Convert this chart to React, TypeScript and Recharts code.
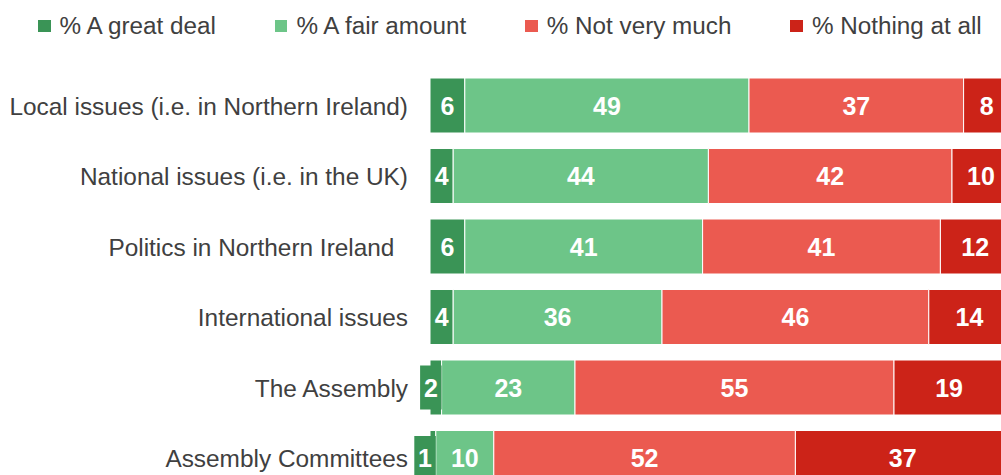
import React from 'react';
import { BarChart, Bar, XAxis, YAxis, LabelList } from 'recharts';

const categories = [
  'Local issues (i.e. in Northern Ireland)',
  'National issues (i.e. in the UK)',
  'Politics in Northern Ireland\u00A0\u00A0',
  'International issues',
  'The Assembly',
  'Assembly Committees',
];

const greatDeal = [6, 4, 6, 4, 2, 1];
const fairAmount = [49, 44, 41, 36, 23, 10];
const notVeryMuch = [37, 42, 41, 46, 55, 52];
const nothingAtAll = [8, 10, 12, 14, 19, 37];

const SERIES = [
  { key: 'great', name: '% A great deal', color: '#3A9456', values: greatDeal },
  { key: 'fair', name: '% A fair amount', color: '#6DC588', values: fairAmount },
  { key: 'notMuch', name: '% Not very much', color: '#EB5A50', values: notVeryMuch },
  { key: 'nothing', name: '% Nothing at all', color: '#CC2318', values: nothingAtAll },
];

const data = categories.map((name, i) => {
  const row: Record<string, string | number> = { name };
  SERIES.forEach(s => {
    row[s.key] = s.values[i];
  });
  return row;
});

const FONT = '"Liberation Sans", Arial, sans-serif';
const TEXT = '#404040';

const makeLabel = (color: string) => (props: any) => {
  const { x, y, width, height, value } = props;
  const cx = x + width / 2;
  const cy = y + height / 2;
  if (width < 14) {
    const boxW = String(value).length * 13.5 + 8;
    const boxX = x + width - boxW;
    return (
      <g>
        <rect x={boxX} y={cy - 22} width={boxW} height={44} fill={color} />
        <text x={boxX + boxW / 2} y={cy} fill="#fff" fontSize={25} fontWeight="bold"
          fontFamily={FONT} textAnchor="middle" dominantBaseline="central">{value}</text>
      </g>
    );
  }
  return (
    <text x={cx} y={cy} fill="#fff" fontSize={25} fontWeight="bold"
      fontFamily={FONT} textAnchor="middle" dominantBaseline="central">{value}</text>
  );
};

const CategoryTick = (props: any) => {
  const { x, y, payload } = props;
  return (
    <text x={x} y={y + 1} fill={TEXT} fontSize={24.4} fontFamily={FONT}
      textAnchor="end" dominantBaseline="central">{payload.value}</text>
  );
};

const App: React.FC = () => {
  return (
    <div style={{ position: 'fixed', left: 0, top: 0, width: 1001, height: 475, overflow: 'hidden', background: '#fff' }}>
      <div style={{ position: 'absolute', left: 38, top: 12, display: 'flex', alignItems: 'center', fontFamily: FONT, fontSize: 24.25, color: TEXT }}>
        {SERIES.map(s => (
          <div key={s.key} style={{ display: 'flex', alignItems: 'center', marginRight: 59 }}>
            <span style={{ width: 12.5, height: 12.5, background: s.color, display: 'inline-block', marginRight: 9 }} />
            <span style={{ whiteSpace: 'nowrap' }}>{s.name}</span>
          </div>
        ))}
      </div>
      <BarChart
        width={1010}
        height={493}
        data={data}
        layout="vertical"
        margin={{ top: 70, right: 0, bottom: 0, left: 0 }}
        barSize={55}
      >
        <XAxis type="number" domain={[0, 100]} hide />
        <YAxis
          type="category"
          dataKey="name"
          width={430}
          axisLine={false}
          tickLine={false}
          tickMargin={16}
          tick={<CategoryTick />}
          interval={0}
        />
        {SERIES.map(s => (
          <Bar key={s.key} dataKey={s.key} name={s.name} stackId="a" fill={s.color}
            stroke="#fff" strokeWidth={1} isAnimationActive={false}>
            <LabelList dataKey={s.key} content={makeLabel(s.color)} />
          </Bar>
        ))}
      </BarChart>
    </div>
  );
};

export default App;
